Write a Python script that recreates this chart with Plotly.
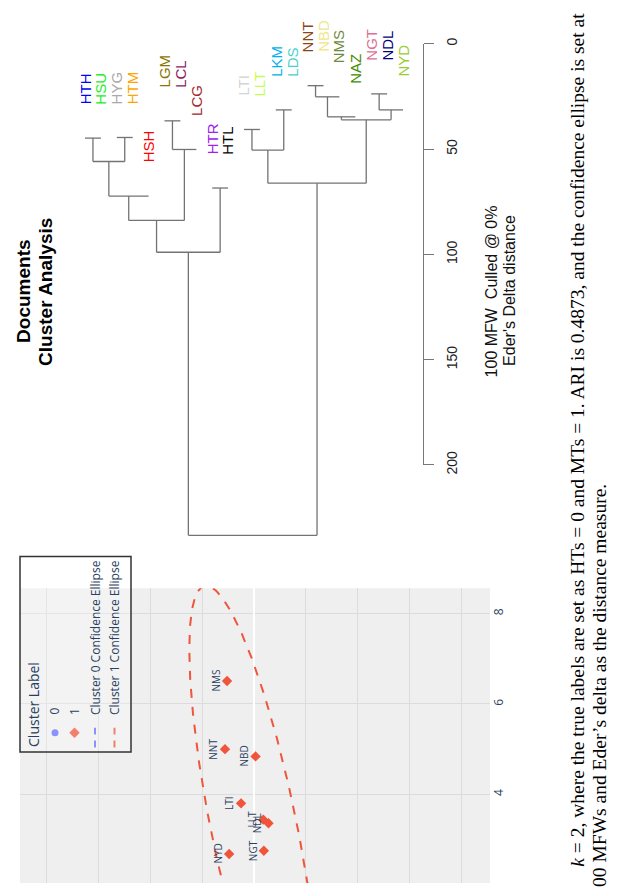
import numpy as np
import plotly.graph_objects as go

# The page body adds an 8px margin; work in screen coordinates and shift.
SCREEN_W, SCREEN_H = 617, 893
OFF = 8
W, H = SCREEN_W - OFF, SCREEN_H - OFF

# ---------------- Dendrogram data ----------------
tip_labels = ["HTH", "HSU", "HYG", "HTM", "HSH", "LGM", "LCL", "LCG", "HTR", "HTL",
              "LTI", "LLT", "LKM", "LDS", "NNT", "NBD", "NMS", "NAZ", "NGT", "NDL", "NYD"]
tip_colors = ["#0000FF", "#22EE22", "#A9A9A9", "#FFA500", "#FF0000", "#8B7500", "#8B1C62",
              "#A52A2A", "#A020F0", "#000000", "#D3D3D3", "#C0FF50", "#00B2EE", "#48D1CC",
              "#8B4513", "#F0E68C", "#6E8B3D", "#458B00", "#DB7093", "#000080", "#9ACD32"]
node_names = ["A", "B", "C", "D", "E", "F", "G", "H", "I", "J",
              "K", "L", "M", "N", "O", "P", "Q", "R", "S", "ROOT"]
node_left = ["HTH", "HYG", "A", "C", "LGM", "E", "D", "HTR", "G", "LTI",
             "LKM", "J", "NNT", "M", "N", "NGT", "P", "O", "L", "I"]
node_right = ["HSU", "HTM", "B", "HSH", "LCL", "LCG", "F", "HTL", "H", "LLT",
              "LDS", "K", "NBD", "NMS", "NAZ", "NDL", "NYD", "Q", "R", "S"]
node_height = [44.8, 44.5, 55.9, 72.3, 36.6, 50.2, 83.9, 68.5, 99.0, 40.7,
               31.4, 50.5, 19.9, 25.2, 34.7, 23.8, 31.4, 36.1, 66.2, 233.4]
dist_ticks = [0, 50, 100, 150, 200]

# ---------------- Scatter (cluster 1) data ----------------
c1_labels = ["NMS", "NNT", "NBD", "LTI", "LLT", "NDL", "NGT", "NYD"]
c1_dim1 = [6.51, 5.00, 4.84, 3.80, 3.44, 3.36, 2.75, 2.68]
c1_dim2 = [0.52, 0.56, -0.03, 0.25, -0.18, -0.28, -0.19, 0.48]
ell1_center = [3.26, 0.0]
ell1_axes = [5.44, 0.83]
ell1_angle_deg = 10.0
dim1_ticks = [2, 4, 6, 8]

caption_1 = ("<i>k</i> = 2, where the true labels are set as HTs = 0 and MTs = 1. "
             "ARI is 0.4873, and the confidence ellipse is set at")
caption_2 = "00 MFWs and Eder\u2019s delta as the distance measure."

RED = "#EF553B"
BLUE = "#636EFA"
TXT = "#2a3f5f"


def fx(sx):
    return (sx - OFF) / W


def fy(sy):
    return 1 - (sy - OFF) / H


# screen mapping of the dendrogram: x = 85 + 15.9*i ; y = 38.3 + 2.145*d
TIP_X0, TIP_DX = 85.0, 15.9
D_Y0, D_DY = 38.3, 2.145

fig = go.Figure()

# ---------------- dendrogram geometry ----------------
pos = {lab: float(i) for i, lab in enumerate(tip_labels)}
hgt = {}
for name, l, r, h in zip(node_names, node_left, node_right, node_height):
    for c in (l, r):
        if c in tip_labels and c not in hgt:
            hgt[c] = h
    pos[name] = (pos[l] + pos[r]) / 2
    hgt[name] = h

xs, ys = [], []
for name, l, r, h in zip(node_names, node_left, node_right, node_height):
    xs += [pos[l], pos[r], None]
    ys += [h, h, None]
    for c in (l, r):
        if hgt[c] != h:
            xs += [pos[c], pos[c], None]
            ys += [h, hgt[c], None]

fig.add_trace(go.Scatter(x=xs, y=ys, mode="lines", line=dict(color="#737373", width=1.3),
                         xaxis="x", yaxis="y", hoverinfo="skip", showlegend=False))

# invisible trace to carry the distance axis
fig.add_trace(go.Scatter(x=[0, 0], y=[dist_ticks[0], dist_ticks[-1]], mode="markers",
                         marker=dict(opacity=0), xaxis="x2", yaxis="y2",
                         hoverinfo="skip", showlegend=False))

# ---------------- scatter ----------------
t = np.linspace(0, 2 * np.pi, 400)
th = np.deg2rad(ell1_angle_deg)
u = ell1_axes[0] * np.cos(t)
v = ell1_axes[1] * np.sin(t)
e_dim1 = ell1_center[0] + u * np.cos(th) - v * np.sin(th)
e_dim2 = ell1_center[1] + u * np.sin(th) + v * np.cos(th)
fig.add_trace(go.Scatter(x=e_dim2, y=e_dim1, mode="lines",
                         line=dict(color=RED, width=2, dash="dash"),
                         xaxis="x3", yaxis="y3", hoverinfo="skip", showlegend=False))
fig.add_trace(go.Scatter(x=c1_dim2, y=c1_dim1, mode="markers",
                         marker=dict(symbol="diamond", size=8, color=RED),
                         xaxis="x3", yaxis="y3", showlegend=False, cliponaxis=False))

# ---------------- legend glyphs (screen-pixel overlay axes) ----------------
fig.add_trace(go.Scatter(x=[55], y=[740], mode="markers", marker=dict(color=BLUE, size=7),
                         xaxis="x4", yaxis="y4", showlegend=False, hoverinfo="skip"))
fig.add_trace(go.Scatter(x=[74.5], y=[740], mode="markers",
                         marker=dict(color=RED, size=8, symbol="diamond"),
                         xaxis="x4", yaxis="y4", showlegend=False, hoverinfo="skip"))
fig.add_trace(go.Scatter(x=[95, 95], y=[755, 735], mode="lines",
                         line=dict(color=BLUE, width=2, dash="7px,6px"),
                         xaxis="x4", yaxis="y4", showlegend=False, hoverinfo="skip"))
fig.add_trace(go.Scatter(x=[114.5, 114.5], y=[755, 735], mode="lines",
                         line=dict(color=RED, width=2, dash="7px,6px"),
                         xaxis="x4", yaxis="y4", showlegend=False, hoverinfo="skip"))

ann = []
# tip labels
for lab, col in zip(tip_labels, tip_colors):
    ann.append(dict(x=pos[lab], y=hgt[lab] - 14.9, xref="x", yref="y", text=lab,
                    textangle=-90, showarrow=False, xanchor="center", yanchor="bottom",
                    font=dict(family="Liberation Sans", size=15, color=col)))

# dendrogram title (top margin of the rotated plot) and subtitle
ann.append(dict(x=fx(24), y=fy(291), xref="paper", yref="paper",
                text="<b>Documents</b>", textangle=-90, showarrow=False,
                xanchor="center", yanchor="middle",
                font=dict(family="Liberation Sans", size=19, color="#000")))
ann.append(dict(x=fx(46), y=fy(291), xref="paper", yref="paper",
                text="<b>Cluster Analysis</b>", textangle=-90, showarrow=False,
                xanchor="center", yanchor="middle",
                font=dict(family="Liberation Sans", size=19, color="#000")))
ann.append(dict(x=fx(491.5), y=fy(291), xref="paper", yref="paper",
                text="100 MFW  Culled @ 0%", textangle=-90, showarrow=False,
                xanchor="center", yanchor="middle",
                font=dict(family="Liberation Sans", size=16, color="#111")))
ann.append(dict(x=fx(510), y=fy(290), xref="paper", yref="paper",
                text="Eder's Delta distance", textangle=-90, showarrow=False,
                xanchor="center", yanchor="middle",
                font=dict(family="Liberation Sans", size=16, color="#111")))

# point labels
for lab, a, b in zip(c1_labels, c1_dim1, c1_dim2):
    ann.append(dict(x=b, y=a, xref="x3", yref="y3", text=lab, textangle=-90,
                    showarrow=False, xshift=-11.5, xanchor="center", yanchor="middle",
                    font=dict(family="Open Sans", size=10, color=TXT)))

# legend texts
ann.append(dict(x=34, y=757, xref="x4", yref="y4", text="Cluster Label", textangle=-90,
                showarrow=False, xanchor="center", yanchor="bottom",
                font=dict(family="Open Sans", size=14, color=TXT)))
for xx, tx in zip([55, 74.5, 95.5, 114.5],
                  ["0", "1", "Cluster 0 Confidence Ellipse", "Cluster 1 Confidence Ellipse"]):
    ann.append(dict(x=xx, y=724, xref="x4", yref="y4", text=tx, textangle=-90,
                    showarrow=False, xanchor="center", yanchor="bottom",
                    font=dict(family="Open Sans", size=12, color=TXT)))

# caption
ann.append(dict(x=fx(577.5), y=fy(879), xref="paper", yref="paper", text=caption_1,
                textangle=-90, showarrow=False, xanchor="center", yanchor="bottom",
                font=dict(family="Liberation Serif", size=19.5, color="#000")))
ann.append(dict(x=fx(600), y=fy(485), xref="paper", yref="paper", text=caption_2,
                textangle=-90, showarrow=False, xanchor="center", yanchor="top",
                font=dict(family="Liberation Serif", size=19.5, color="#000")))

shapes = [
    dict(type="rect", xref="x3 domain", yref="y3 domain", x0=0, x1=1, y0=0, y1=1,
         fillcolor="#EFEFEF", line=dict(width=0), layer="below"),
    dict(type="rect", xref="paper", yref="paper", x0=fx(20), x1=fx(131), y0=fy(759.5),
         y1=fy(560.5), fillcolor="rgba(255,255,255,0.25)", line=dict(color="#333", width=1.5),
         layer="above"),
]

fig.update_layout(
    width=W, height=H, margin=dict(l=0, r=0, t=0, b=0),
    paper_bgcolor="white", plot_bgcolor="rgba(0,0,0,0)",
    font=dict(family="Liberation Sans"),
    showlegend=False,
    xaxis=dict(domain=[0, 1], range=[(OFF - TIP_X0) / TIP_DX, (SCREEN_W - TIP_X0) / TIP_DX],
               visible=False),
    yaxis=dict(domain=[0, 1], range=[(SCREEN_H - D_Y0) / D_DY, (OFF - D_Y0) / D_DY],
               visible=False),
    xaxis2=dict(domain=[0.5, fx(423)], visible=False, anchor="y2"),
    yaxis2=dict(domain=[fy(D_Y0 + 200 * D_DY), fy(D_Y0)], range=[200, 0], anchor="x2",
                side="right", showline=True, linecolor="#777", linewidth=1.2,
                ticks="outside", ticklen=10, tickcolor="#777", tickwidth=1.2,
                tickvals=dist_ticks, tickangle=-90, showgrid=False, zeroline=False,
                ticklabelstandoff=6,
                tickfont=dict(family="Liberation Sans", size=14, color="#222")),
    xaxis3=dict(domain=[fx(20), fx(490)], range=[(254 - 20) / 51.8, (254 - 490) / 51.8],
                anchor="y3", dtick=1, tick0=0, showticklabels=False, ticks="",
                gridcolor="#DCDCDC", zeroline=True, zerolinecolor="white", zerolinewidth=2),
    yaxis3=dict(domain=[0, fy(592.7)],
                range=[4 - (SCREEN_H - 802.7) / 46, 4 + (802.7 - 592.7) / 46],
                anchor="x3", side="right", tickvals=dim1_ticks, tickangle=-90, ticks="",
                gridcolor="#DCDCDC", zeroline=False,
                tickfont=dict(family="Open Sans", size=12, color=TXT)),
    xaxis4=dict(domain=[0, 1], range=[OFF, SCREEN_W], visible=False, anchor="y4"),
    yaxis4=dict(domain=[0, 1], range=[SCREEN_H, OFF], visible=False, anchor="x4"),
    annotations=ann,
    shapes=shapes,
)

fig.write_html("out.html")
